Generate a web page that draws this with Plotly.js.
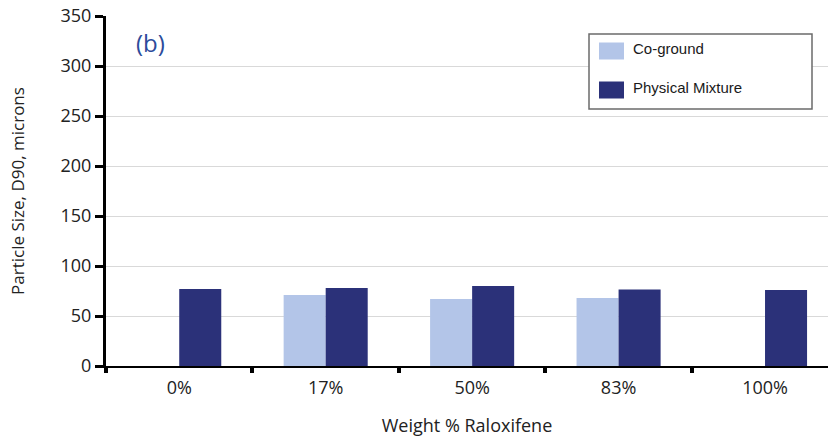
<!DOCTYPE html>
<html>
<head>
<meta charset="utf-8">
<script src="https://cdn.plot.ly/plotly-3.0.1.min.js"></script>
<style>
  html, body { margin: 0; padding: 0; background: #fff; overflow: hidden; }
  #chart { width: 828px; height: 444px; }
</style>
</head>
<body>
<div id="chart"></div>
<script>
// Particle size (D90) by raloxifene weight fraction
const categories = ['0%', '17%', '50%', '83%', '100%'];
const coGround = [null, 71, 67, 68, null];
const physicalMixture = [77, 78, 80, 76.5, 76];
const seriesNames = ['Co-ground', 'Physical Mixture'];
const seriesColors = ['#b3c5e8', '#2b3179'];
const yTicks = [0, 50, 100, 150, 200, 250, 300, 350];

const traces = [
  { type: 'bar', name: seriesNames[0], x: categories, y: coGround,
    marker: { color: seriesColors[0] }, showlegend: false, hoverinfo: 'x+y' },
  { type: 'bar', name: seriesNames[1], x: categories, y: physicalMixture,
    marker: { color: seriesColors[1] }, showlegend: false, hoverinfo: 'x+y' }
];

// Boxed key drawn in paper coordinates
const plotW = 828 - 106, plotH = 444 - 16 - 78;
const px = v => (v - 106) / plotW;
const py = v => 1 - (v - 16) / plotH;
const shapes = [
  { type: 'rect', xref: 'paper', yref: 'paper',
    x0: px(589), x1: px(812), y0: py(109), y1: py(34),
    line: { color: '#6b6b6b', width: 1.5 }, fillcolor: '#ffffff', layer: 'above' }
];
const annotations = [
  { text: '(b)', xref: 'paper', yref: 'paper', x: px(134), y: py(42),
    xanchor: 'left', yanchor: 'middle', showarrow: false,
    font: { family: 'Open Sans, sans-serif', size: 24, color: '#2c4b9b' } }
];
const keyRows = [51, 90];
seriesNames.forEach((name, i) => {
  shapes.push({ type: 'rect', xref: 'paper', yref: 'paper',
    x0: px(599), x1: px(624), y0: py(keyRows[i] + 8.5), y1: py(keyRows[i] - 8.5),
    line: { width: 0 }, fillcolor: seriesColors[i], layer: 'above' });
  annotations.push({ text: name, xref: 'paper', yref: 'paper',
    x: px(631), y: py(keyRows[i] - 3), xanchor: 'left', yanchor: 'middle',
    showarrow: false,
    font: { family: 'Liberation Sans, Arial, sans-serif', size: 15, color: '#1a1a1a' } });
});

const layout = {
  width: 828, height: 444,
  margin: { l: 106, r: 0, t: 16, b: 78, pad: 0 },
  paper_bgcolor: '#ffffff', plot_bgcolor: '#ffffff',
  barmode: 'group', bargap: 0.426, bargroupgap: 0,
  font: { family: 'Open Sans, sans-serif', color: '#222222' },
  xaxis: {
    type: 'category', range: [-0.5, 4.43],
    showline: true, linecolor: '#000000', linewidth: 2,
    ticks: 'outside', tickson: 'boundaries', ticklen: 5, tickwidth: 4, tickcolor: '#000000',
    ticklabelstandoff: 4,
    showgrid: false, zeroline: false,
    tickfont: { size: 18, color: '#222222' },
    title: { text: 'Weight % Raloxifene', font: { size: 18, color: '#222222' }, standoff: 22 }
  },
  yaxis: {
    range: [0, 350], tickvals: yTicks,
    showline: true, linecolor: '#000000', linewidth: 3,
    ticks: 'outside', ticklen: 8, tickwidth: 3, tickcolor: '#000000',
    showgrid: true, gridcolor: '#d9d9d9', gridwidth: 1, zeroline: false,
    tickfont: { size: 18, color: '#222222' },
    title: { text: 'Particle Size, D90, microns', font: { size: 17, color: '#222222' }, standoff: 32 }
  },
  shapes: shapes,
  annotations: annotations
};

Plotly.newPlot('chart', traces, layout, { displayModeBar: false, staticPlot: true });
</script>
</body>
</html>
